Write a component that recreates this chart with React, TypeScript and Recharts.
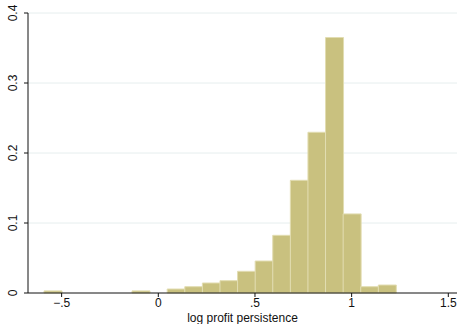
import React from "react";
import {
  BarChart,
  Bar,
  XAxis,
  YAxis,
  CartesianGrid,
} from "recharts";

// histogram bin midpoints (bin width ~0.091) and density per bin
const binMids = [
  -0.5455, -0.4545, -0.3635, -0.2725, -0.1815, -0.0905, 0.0005, 0.0915, 0.1825, 0.2735,
  0.3645, 0.4555, 0.5465, 0.6375, 0.7285, 0.8195, 0.9105, 1.0015, 1.0925, 1.1835,
];
const density = [
  0.003, 0, 0, 0, 0, 0.003, 0, 0.0057, 0.009, 0.0143,
  0.0176, 0.031, 0.0457, 0.0824, 0.161, 0.2296, 0.365, 0.113, 0.009, 0.0114,
];

const xTicks = [-0.5, 0, 0.5, 1, 1.5];
const xTickLabels = ["\u2212.5", "0", ".5", "1", "1.5"];
const yTicks = [0, 0.1, 0.2, 0.3, 0.4];
const yTickLabels = ["0", "0.1", "0.2", "0.3", "0.4"];

const data = binMids.map((mid, i) => ({ mid, density: density[i] }));

const FONT = "'Liberation Sans', Arial, sans-serif";

const YTick = (props: any) => {
  const { x, y, payload } = props;
  const idx = yTicks.indexOf(payload.value);
  return (
    <text
      x={x}
      y={y}
      transform={`rotate(-90 ${x} ${y})`}
      textAnchor="middle"
      fontSize={12}
      fontFamily={FONT}
      fill="#111"
    >
      {idx >= 0 ? yTickLabels[idx] : payload.value}
    </text>
  );
};

export default function App() {
  return (
    <div style={{ position: "absolute", left: 0, top: 0, background: "#fff" }}>
      <BarChart
        width={458}
        height={324}
        data={data}
        margin={{ top: 13, right: 1, left: 0, bottom: 0 }}
        barCategoryGap={0}
        barGap={0}
      >
        <CartesianGrid
          horizontal={true}
          vertical={false}
          stroke="#e6eeee"
          horizontalValues={[0.1, 0.2, 0.3, 0.4]}
        />
        <XAxis
          dataKey="mid"
          type="number"
          domain={[-0.674, 1.545]}
          allowDataOverflow
          ticks={xTicks}
          tickFormatter={(v: number) => xTickLabels[xTicks.indexOf(v)] ?? String(v)}
          tick={{ fill: "#111", fontSize: 12, fontFamily: FONT }}
          tickSize={4}
          tickMargin={1}
          axisLine={{ stroke: "#111" }}
          tickLine={{ stroke: "#111" }}
          height={31}
          label={{
            value: "log profit persistence",
            position: "insideBottom",
            offset: 2,
            fill: "#111",
            fontSize: 12,
            fontFamily: FONT,
          }}
        />
        <YAxis
          type="number"
          domain={[0, 0.4]}
          ticks={yTicks}
          tick={<YTick />}
          tickSize={4}
          tickMargin={7}
          axisLine={{ stroke: "#111" }}
          tickLine={{ stroke: "#111" }}
          width={28}
        />
        <Bar
          dataKey="density"
          fill="#c9c17f"
          stroke="#e2ddb2"
          strokeWidth={1}
          isAnimationActive={false}
        />
      </BarChart>
    </div>
  );
}
